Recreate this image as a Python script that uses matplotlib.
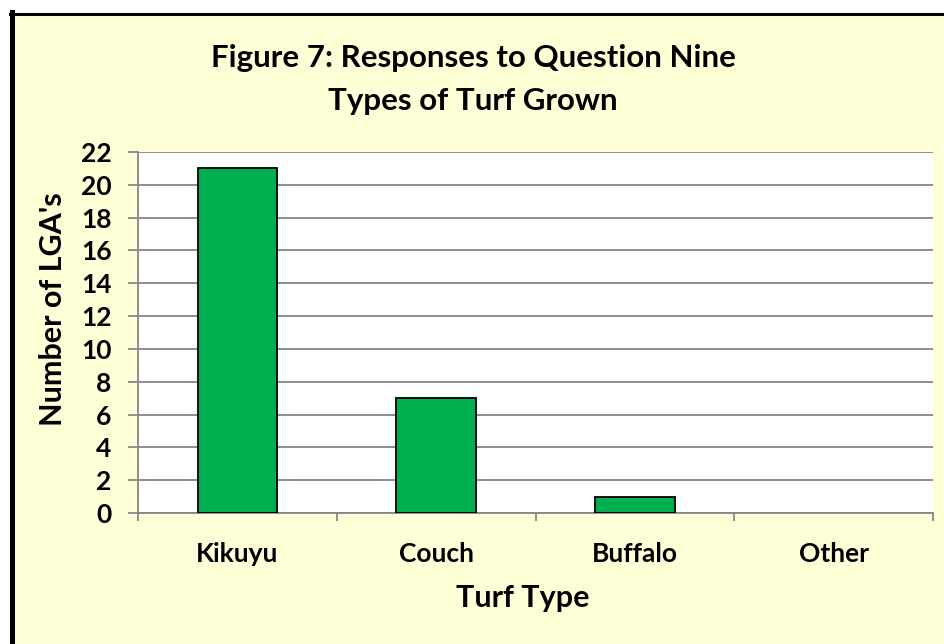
import matplotlib.pyplot as plt
from matplotlib.patches import Rectangle
from matplotlib.lines import Line2D

turf_types = ["Kikuyu", "Couch", "Buffalo", "Other"]
responses = [21, 7, 1, 0]
y_ticks = list(range(0, 23, 2))

font = ["Lato", "DejaVu Sans"]
plt.rcParams["font.family"] = font
plt.rcParams["font.weight"] = "bold"

W, H = 945, 644
fig = plt.figure(figsize=(W / 100, H / 100), dpi=100, facecolor="white")

# yellow chart area with a black frame on the visible left/top edges
x0, y1 = 14 / W, 1 - 15 / H
fig.patches.append(Rectangle((x0, 0), 1 - x0, y1, transform=fig.transFigure,
                             facecolor="#FFFFD7", edgecolor="none", zorder=-1))
fig.lines.append(Line2D([11.5 / W, 11.5 / W], [0, 1 - 12 / H], transform=fig.transFigure,
                        color="black", lw=3.6, zorder=-0.5))
fig.lines.append(Line2D([10 / W, 1], [1 - 14 / H, 1 - 14 / H], transform=fig.transFigure,
                        color="black", lw=2.2, zorder=-0.5))

ax = fig.add_axes([138 / W, 1 - 513 / H, (933 - 138) / W, (513 - 152) / H])
ax.set_facecolor("white")

pos = range(len(turf_types))
edge_w = [1.3 if v > 0 else 0 for v in responses]
ax.bar(pos, responses, width=0.4, color="#00B050", edgecolor="black",
       linewidth=edge_w, zorder=3)

ax.set_xlim(-0.5, len(turf_types) - 0.5)
ax.set_ylim(0, 22)
ax.set_yticks(y_ticks)
ax.yaxis.grid(True, color="#868686", lw=1.3, zorder=0)

ax.set_xticks([p - 0.5 for p in range(len(turf_types) + 1)])
ax.set_xticklabels([])
ax.set_xticks(list(pos), labels=turf_types, minor=True)
ax.tick_params(axis="x", which="major", length=6, width=1.3, color="#868686")
ax.tick_params(axis="x", which="minor", length=0, pad=21, labelsize=19)
ax.tick_params(axis="y", length=7, width=1.3, color="#868686", labelsize=19, pad=12)

for s in ["top", "right"]:
    ax.spines[s].set_visible(False)
for s in ["left", "bottom"]:
    ax.spines[s].set_color("#868686")
    ax.spines[s].set_linewidth(1.3)

for lbl in ax.get_xticklabels(minor=True) + ax.get_yticklabels():
    lbl.set_fontweight("bold")

fig.text(523 / W, 1 - 598 / H, "Turf Type", ha="center", va="center",
         fontsize=22, fontweight="bold")
fig.text(53 / W, 1 - 309 / H, "Number of LGA's", ha="center", va="center",
         rotation=90, fontsize=22, fontweight="bold")

fig.text(473 / W, 1 - 58 / H, "Figure 7: Responses to Question Nine",
         ha="center", va="center", fontsize=22.5, fontweight="bold")
fig.text(473 / W, 1 - 101 / H, "Types of Turf Grown",
         ha="center", va="center", fontsize=22.5, fontweight="bold")

fig.savefig("out.png", dpi=100, facecolor=fig.get_facecolor())
